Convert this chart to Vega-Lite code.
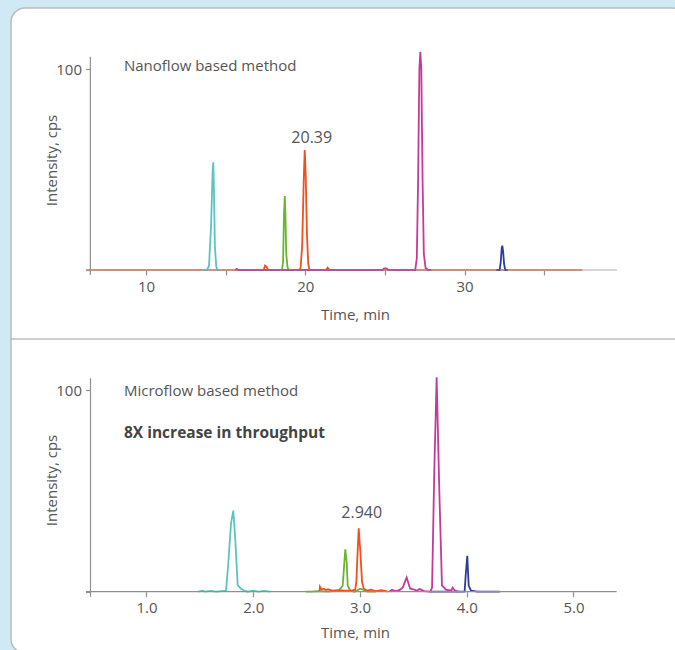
{
  "$schema": "https://vega.github.io/schema/vega-lite/v6.json",
  "background": "#cfe9f5",
  "padding": {"left": 10, "top": 8, "right": 0, "bottom": 0},
  "width": 675,
  "height": 645,
  "config": {
    "view": {"fill": "white", "stroke": "#bcbcbc", "strokeWidth": 1.5, "cornerRadius": 14},
    "axis": {
      "domain": false, "grid": false,
      "tickColor": "#8f8f8f", "tickSize": 5, "tickWidth": 1.2,
      "labelFont": "Open Sans", "labelFontSize": 15, "labelColor": "#555555", "labelPadding": 4,
      "titleFont": "Open Sans", "titleFontSize": 15, "titleFontWeight": "normal", "titleColor": "#555555",
      "titleAlign": "center", "titleBaseline": "middle", "labelFlush": false, "labelOverlap": false
    },
    "text": {"font": "Open Sans", "fontSize": 15, "color": "#555555"}
  },
  "datasets": {
    "top": [
      {"s": "base", "t": 6.23, "v": 0}, {"s": "base", "t": 37.4, "v": 0},
      {"s": "cyan", "t": 13.6, "v": 0}, {"s": "cyan", "t": 13.82, "v": 0}, {"s": "cyan", "t": 13.95, "v": 2}, {"s": "cyan", "t": 14.08, "v": 22}, {"s": "cyan", "t": 14.18, "v": 50}, {"s": "cyan", "t": 14.22, "v": 53.6}, {"s": "cyan", "t": 14.26, "v": 40}, {"s": "cyan", "t": 14.32, "v": 12}, {"s": "cyan", "t": 14.4, "v": 2}, {"s": "cyan", "t": 14.47, "v": 0}, {"s": "cyan", "t": 14.6, "v": 0},
      {"s": "green", "t": 18.4, "v": 0}, {"s": "green", "t": 18.53, "v": 0}, {"s": "green", "t": 18.6, "v": 4}, {"s": "green", "t": 18.66, "v": 28}, {"s": "green", "t": 18.71, "v": 36.8}, {"s": "green", "t": 18.75, "v": 27}, {"s": "green", "t": 18.8, "v": 8}, {"s": "green", "t": 18.88, "v": 1.5}, {"s": "green", "t": 18.95, "v": 0}, {"s": "green", "t": 19.1, "v": 0},
      {"s": "orange", "t": 17.2, "v": 0}, {"s": "orange", "t": 17.38, "v": 0}, {"s": "orange", "t": 17.47, "v": 2.2}, {"s": "orange", "t": 17.57, "v": 1.5}, {"s": "orange", "t": 17.66, "v": 0}, {"s": "orange", "t": 19.6, "v": 0}, {"s": "orange", "t": 19.7, "v": 1}, {"s": "orange", "t": 19.8, "v": 12}, {"s": "orange", "t": 19.9, "v": 45}, {"s": "orange", "t": 19.96, "v": 59.7}, {"s": "orange", "t": 20.02, "v": 48}, {"s": "orange", "t": 20.1, "v": 18}, {"s": "orange", "t": 20.18, "v": 3}, {"s": "orange", "t": 20.26, "v": 0}, {"s": "orange", "t": 21.3, "v": 0}, {"s": "orange", "t": 21.4, "v": 1.2}, {"s": "orange", "t": 21.5, "v": 0}, {"s": "orange", "t": 21.7, "v": 0},
      {"s": "magenta", "t": 15.6, "v": 0}, {"s": "magenta", "t": 15.7, "v": 0.6}, {"s": "magenta", "t": 15.8, "v": 0}, {"s": "magenta", "t": 24.85, "v": 0}, {"s": "magenta", "t": 24.95, "v": 0.8}, {"s": "magenta", "t": 25.1, "v": 0.8}, {"s": "magenta", "t": 25.2, "v": 0}, {"s": "magenta", "t": 26.9, "v": 0}, {"s": "magenta", "t": 27.0, "v": 6}, {"s": "magenta", "t": 27.08, "v": 45}, {"s": "magenta", "t": 27.16, "v": 100}, {"s": "magenta", "t": 27.22, "v": 108.6}, {"s": "magenta", "t": 27.28, "v": 100}, {"s": "magenta", "t": 27.36, "v": 45}, {"s": "magenta", "t": 27.44, "v": 8}, {"s": "magenta", "t": 27.55, "v": 1}, {"s": "magenta", "t": 27.7, "v": 0}, {"s": "magenta", "t": 27.9, "v": 0},
      {"s": "blue", "t": 32.0, "v": 0}, {"s": "blue", "t": 32.2, "v": 0}, {"s": "blue", "t": 32.27, "v": 4}, {"s": "blue", "t": 32.33, "v": 11}, {"s": "blue", "t": 32.37, "v": 12.1}, {"s": "blue", "t": 32.42, "v": 9}, {"s": "blue", "t": 32.48, "v": 3}, {"s": "blue", "t": 32.55, "v": 0}, {"s": "blue", "t": 32.7, "v": 0}
    ],
    "bot": [
      {"s": "cyan", "t": 1.485, "v": 0}, {"s": "cyan", "t": 1.52, "v": 0.5}, {"s": "cyan", "t": 1.55, "v": 0}, {"s": "cyan", "t": 1.6, "v": 0.4}, {"s": "cyan", "t": 1.65, "v": 0}, {"s": "cyan", "t": 1.7, "v": 0.3}, {"s": "cyan", "t": 1.745, "v": 0.5}, {"s": "cyan", "t": 1.766, "v": 14}, {"s": "cyan", "t": 1.792, "v": 34}, {"s": "cyan", "t": 1.813, "v": 40.2}, {"s": "cyan", "t": 1.832, "v": 25.6}, {"s": "cyan", "t": 1.854, "v": 3.3}, {"s": "cyan", "t": 1.885, "v": 1.5}, {"s": "cyan", "t": 1.916, "v": 0.5}, {"s": "cyan", "t": 1.95, "v": 0}, {"s": "cyan", "t": 2.0, "v": 0.5}, {"s": "cyan", "t": 2.05, "v": 0}, {"s": "cyan", "t": 2.1, "v": 0.4}, {"s": "cyan", "t": 2.16, "v": 0},
      {"s": "green", "t": 2.494, "v": 0}, {"s": "green", "t": 2.55, "v": 0}, {"s": "green", "t": 2.6, "v": 0.3}, {"s": "green", "t": 2.7, "v": 0}, {"s": "green", "t": 2.8, "v": 0.5}, {"s": "green", "t": 2.838, "v": 3}, {"s": "green", "t": 2.85, "v": 12}, {"s": "green", "t": 2.862, "v": 21}, {"s": "green", "t": 2.875, "v": 15}, {"s": "green", "t": 2.885, "v": 3}, {"s": "green", "t": 2.91, "v": 0.5}, {"s": "green", "t": 2.95, "v": 0}, {"s": "green", "t": 3.0, "v": 1.5}, {"s": "green", "t": 3.03, "v": 1}, {"s": "green", "t": 3.07, "v": 0}, {"s": "green", "t": 3.15, "v": 0},
      {"s": "orange", "t": 2.62, "v": 0}, {"s": "orange", "t": 2.625, "v": 2.5}, {"s": "orange", "t": 2.64, "v": 1}, {"s": "orange", "t": 2.66, "v": 1.5}, {"s": "orange", "t": 2.68, "v": 0.8}, {"s": "orange", "t": 2.7, "v": 1.2}, {"s": "orange", "t": 2.74, "v": 0.5}, {"s": "orange", "t": 2.8, "v": 0.8}, {"s": "orange", "t": 2.86, "v": 0.5}, {"s": "orange", "t": 2.92, "v": 0.5}, {"s": "orange", "t": 2.955, "v": 1}, {"s": "orange", "t": 2.966, "v": 5}, {"s": "orange", "t": 2.978, "v": 20}, {"s": "orange", "t": 2.988, "v": 31.4}, {"s": "orange", "t": 3.003, "v": 20}, {"s": "orange", "t": 3.019, "v": 5}, {"s": "orange", "t": 3.035, "v": 1.5}, {"s": "orange", "t": 3.07, "v": 0.5}, {"s": "orange", "t": 3.1, "v": 1}, {"s": "orange", "t": 3.15, "v": 0.3}, {"s": "orange", "t": 3.2, "v": 0.8}, {"s": "orange", "t": 3.26, "v": 0},
      {"s": "blue", "t": 3.665, "v": 0}, {"s": "blue", "t": 3.98, "v": 0}, {"s": "blue", "t": 3.99, "v": 8}, {"s": "blue", "t": 4.005, "v": 17.8}, {"s": "blue", "t": 4.018, "v": 3}, {"s": "blue", "t": 4.04, "v": 0.5}, {"s": "blue", "t": 4.1, "v": 0}, {"s": "blue", "t": 4.31, "v": 0},
      {"s": "magenta", "t": 3.275, "v": 0}, {"s": "magenta", "t": 3.3, "v": 1}, {"s": "magenta", "t": 3.33, "v": 0.3}, {"s": "magenta", "t": 3.37, "v": 0.8}, {"s": "magenta", "t": 3.4, "v": 2}, {"s": "magenta", "t": 3.437, "v": 7.1}, {"s": "magenta", "t": 3.47, "v": 1.5}, {"s": "magenta", "t": 3.5, "v": 1.2}, {"s": "magenta", "t": 3.53, "v": 0.5}, {"s": "magenta", "t": 3.56, "v": 1.3}, {"s": "magenta", "t": 3.6, "v": 0.3}, {"s": "magenta", "t": 3.66, "v": 0}, {"s": "magenta", "t": 3.675, "v": 2}, {"s": "magenta", "t": 3.696, "v": 60}, {"s": "magenta", "t": 3.718, "v": 106.3}, {"s": "magenta", "t": 3.743, "v": 50}, {"s": "magenta", "t": 3.768, "v": 3}, {"s": "magenta", "t": 3.806, "v": 1}, {"s": "magenta", "t": 3.853, "v": 0.5}, {"s": "magenta", "t": 3.868, "v": 2}, {"s": "magenta", "t": 3.89, "v": 0.5}, {"s": "magenta", "t": 3.92, "v": 0}
    ]
  },
  "layer": [
    {
      "layer": [
        {
          "data": {"name": "top"},
          "mark": {"type": "line", "strokeWidth": 1.8},
          "encoding": {
            "x": {"field": "t", "type": "quantitative",
              "scale": {"domain": [1.5165, 43.9025], "nice": false, "zero": false},
              "axis": {"orient": "bottom", "values": [10, 15, 20, 25, 30, 35], "labelExpr": "datum.value == 10 || datum.value == 20 || datum.value == 30 ? datum.label : ''", "offset": -383, "title": "Time, min", "titleX": 344, "titleY": 44}},
            "y": {"field": "v", "type": "quantitative",
              "scale": {"domain": [-190.55, 130.35], "nice": false, "zero": false},
              "axis": {"orient": "left", "values": [0, 100], "labelExpr": "datum.value == 100 ? '100' : ''", "offset": -79.5, "title": "Intensity, cps", "titleX": -38.7, "titleY": 152, "titleAngle": -90}},
            "color": {"field": "s", "type": "nominal", "legend": null,
              "scale": {"domain": ["base", "cyan", "green", "orange", "magenta", "blue"], "range": ["#e8957b", "#5bc4c0", "#6ab52e", "#f0501e", "#c5399a", "#2e3b99"]}}
          }
        },
        {
          "data": {"values": [{}]},
          "mark": {"type": "rule", "color": "#bcbcbc", "strokeWidth": 1.5},
          "encoding": {
            "y": {"datum": -34.33, "type": "quantitative"}
          }
        },
        {
          "data": {"values": [{}]},
          "mark": {"type": "rule", "color": "#8f8f8f", "strokeWidth": 1.2},
          "encoding": {
            "x": {"datum": 6.5, "type": "quantitative"},
            "y": {"datum": -2.5, "type": "quantitative"},
            "y2": {"datum": 106.1}
          }
        },
        {
          "data": {"values": [{}]},
          "mark": {"type": "rule", "color": "#8f8f8f", "strokeWidth": 1.2, "opacity": 0.7},
          "encoding": {
            "x": {"datum": 6.23, "type": "quantitative"},
            "x2": {"datum": 39.56},
            "y": {"datum": 0, "type": "quantitative"}
          }
        },
        {
          "data": {"values": [{}]},
          "mark": {"type": "text", "align": "left", "baseline": "middle"},
          "encoding": {
            "x": {"datum": 8.61, "type": "quantitative"},
            "y": {"datum": 101.5, "type": "quantitative"},
            "text": {"value": "Nanoflow based method"}
          }
        },
        {
          "data": {"values": [{}]},
          "mark": {"type": "text", "align": "center", "baseline": "middle", "fontSize": 16},
          "encoding": {
            "x": {"datum": 20.4, "type": "quantitative"},
            "y": {"datum": 65.7, "type": "quantitative"},
            "text": {"value": "20.39"}
          }
        }
      ]
    },
    {
      "layer": [
        {
          "data": {"name": "bot"},
          "mark": {"type": "line", "strokeWidth": 1.8},
          "encoding": {
            "x": {"field": "t", "type": "quantitative",
              "scale": {"domain": [-0.2693, 6.0539], "nice": false, "zero": false},
              "axis": {"orient": "bottom", "values": [1, 2, 3, 4, 5], "format": ".1f", "offset": -61.3, "title": "Time, min", "titleX": 344, "titleY": 41}},
            "y": {"field": "v", "type": "quantitative",
              "scale": {"domain": [-30.39, 289.39], "nice": false, "zero": false},
              "axis": {"orient": "left", "values": [0, 100], "labelExpr": "datum.value == 100 ? '100' : ''", "offset": -79.5, "title": "Intensity, cps", "titleX": -38.7, "titleY": 472, "titleAngle": -90}},
            "color": {"field": "s", "type": "nominal", "legend": null,
              "scale": {"domain": ["cyan", "green", "orange", "blue", "magenta"], "range": ["#5bc4c0", "#6ab52e", "#f0501e", "#2e3b99", "#c5399a"]}}
          }
        },
        {
          "data": {"values": [{}]},
          "mark": {"type": "rule", "color": "#8f8f8f", "strokeWidth": 1.2},
          "encoding": {
            "x": {"datum": 0.4754, "type": "quantitative"},
            "y": {"datum": -2.5, "type": "quantitative"},
            "y2": {"datum": 105.8}
          }
        },
        {
          "data": {"values": [{}]},
          "mark": {"type": "rule", "color": "#8f8f8f", "strokeWidth": 1.2},
          "encoding": {
            "x": {"datum": 0.4333, "type": "quantitative"},
            "x2": {"datum": 5.404},
            "y": {"datum": 0, "type": "quantitative"}
          }
        },
        {
          "data": {"values": [{}]},
          "mark": {"type": "text", "align": "left", "baseline": "middle"},
          "encoding": {
            "x": {"datum": 0.789, "type": "quantitative"},
            "y": {"datum": 99.7, "type": "quantitative"},
            "text": {"value": "Microflow based method"}
          }
        },
        {
          "data": {"values": [{}]},
          "mark": {"type": "text", "align": "left", "baseline": "middle", "fontWeight": "bold", "fontSize": 15.5, "color": "#444444"},
          "encoding": {
            "x": {"datum": 0.789, "type": "quantitative"},
            "y": {"datum": 78.8, "type": "quantitative"},
            "text": {"value": "8X increase in throughput"}
          }
        },
        {
          "data": {"values": [{}]},
          "mark": {"type": "text", "align": "center", "baseline": "middle", "fontSize": 16},
          "encoding": {
            "x": {"datum": 3.016, "type": "quantitative"},
            "y": {"datum": 38.9, "type": "quantitative"},
            "text": {"value": "2.940"}
          }
        }
      ]
    }
  ],
  "resolve": {"scale": {"x": "independent", "y": "independent", "color": "independent"}}
}
